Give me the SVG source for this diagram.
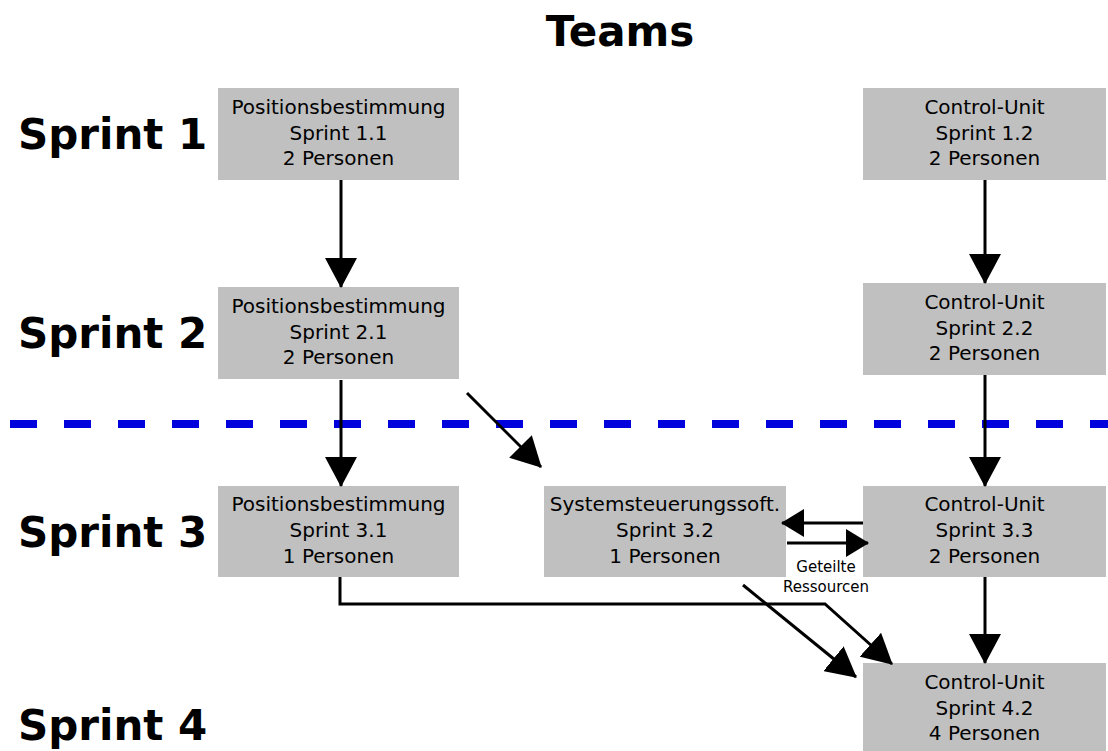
<svg xmlns="http://www.w3.org/2000/svg" width="1108" height="751" viewBox="0 0 1108 751">
  <style>
    .box { fill: #c0c0c0; }
    .lbl { font-family: "DejaVu Sans", sans-serif; font-size: 20px; fill: #000; text-anchor: middle; }
    .sprint { font-family: "DejaVu Sans", sans-serif; font-size: 42px; font-weight: bold; fill: #000; }
    .title { font-family: "DejaVu Sans", sans-serif; font-size: 42px; font-weight: bold; fill: #000; text-anchor: middle; }
    .note { font-family: "DejaVu Sans", sans-serif; font-size: 15px; fill: #000; text-anchor: middle; }
    .edge { fill: none; stroke: #000; stroke-width: 3; }
    .big { marker-end: url(#head); }
    .small { marker-end: url(#headS); }
  </style>
  <defs>
    <marker id="head" markerUnits="userSpaceOnUse" markerWidth="31" markerHeight="32" refX="29" refY="16" orient="auto">
      <path d="M0,0 L30,16 L0,32 z" fill="#000"/>
    </marker>
    <marker id="headS" markerUnits="userSpaceOnUse" markerWidth="24" markerHeight="28" refX="22" refY="14" orient="auto">
      <path d="M0,0 L23,14 L0,28 z" fill="#000"/>
    </marker>
  </defs>
  <rect width="1108" height="751" fill="#fff"/>

  <!-- headings -->
  <text class="title" x="620" y="46">Teams</text>
  <text class="sprint" x="18" y="149">Sprint 1</text>
  <text class="sprint" x="18" y="348">Sprint 2</text>
  <text class="sprint" x="18" y="547">Sprint 3</text>
  <text class="sprint" x="18" y="740">Sprint 4</text>

  <!-- sprint boundary -->
  <line x1="10" y1="424" x2="1108" y2="424" stroke="#0000dc" stroke-width="8" stroke-dasharray="27 27"/>

  <!-- nodes -->
  <g id="pos11">
    <rect class="box" x="218" y="88" width="241" height="92"/>
    <text class="lbl" x="338.5" y="114">Positionsbestimmung</text>
    <text class="lbl" x="338.5" y="139.5">Sprint 1.1</text>
    <text class="lbl" x="338.5" y="165">2 Personen</text>
  </g>
  <g id="cu12">
    <rect class="box" x="863" y="88" width="243" height="92"/>
    <text class="lbl" x="984.5" y="114">Control-Unit</text>
    <text class="lbl" x="984.5" y="139.5">Sprint 1.2</text>
    <text class="lbl" x="984.5" y="165">2 Personen</text>
  </g>
  <g id="pos21">
    <rect class="box" x="218" y="287" width="241" height="92"/>
    <text class="lbl" x="338.5" y="313">Positionsbestimmung</text>
    <text class="lbl" x="338.5" y="338.5">Sprint 2.1</text>
    <text class="lbl" x="338.5" y="364">2 Personen</text>
  </g>
  <g id="cu22">
    <rect class="box" x="863" y="283" width="243" height="92"/>
    <text class="lbl" x="984.5" y="309">Control-Unit</text>
    <text class="lbl" x="984.5" y="334.5">Sprint 2.2</text>
    <text class="lbl" x="984.5" y="360">2 Personen</text>
  </g>
  <g id="pos31">
    <rect class="box" x="218" y="486" width="241" height="91"/>
    <text class="lbl" x="338.5" y="511">Positionsbestimmung</text>
    <text class="lbl" x="338.5" y="537">Sprint 3.1</text>
    <text class="lbl" x="338.5" y="562.5">1 Personen</text>
  </g>
  <g id="sys32">
    <rect class="box" x="544" y="486" width="242" height="91"/>
    <text class="lbl" x="665" y="511">Systemsteuerungssoft.</text>
    <text class="lbl" x="665" y="537">Sprint 3.2</text>
    <text class="lbl" x="665" y="562.5">1 Personen</text>
  </g>
  <g id="cu33">
    <rect class="box" x="863" y="486" width="243" height="91"/>
    <text class="lbl" x="984.5" y="511">Control-Unit</text>
    <text class="lbl" x="984.5" y="537">Sprint 3.3</text>
    <text class="lbl" x="984.5" y="562.5">2 Personen</text>
  </g>
  <g id="cu42">
    <rect class="box" x="863" y="663" width="243" height="88"/>
    <text class="lbl" x="984.5" y="689">Control-Unit</text>
    <text class="lbl" x="984.5" y="715">Sprint 4.2</text>
    <text class="lbl" x="984.5" y="740">4 Personen</text>
  </g>

  <!-- connectors -->
  <g id="connectors">
    <path class="edge big" d="M341,180 V287"/>
    <path class="edge big" d="M985,180 V283"/>
    <path class="edge big" d="M341,380 V486"/>
    <path class="edge big" d="M985,375 V486"/>
    <path class="edge big" d="M467,393 L541,467"/>
    <path class="edge small" d="M863,523 H782"/>
    <path class="edge small" d="M787,543 H868"/>
    <path class="edge big" d="M340,577 V604 H825 L892,664"/>
    <path class="edge big" d="M743,585 L856,677"/>
    <path class="edge big" d="M985,577 V663"/>
    <text class="note" x="826" y="572">Geteilte</text>
    <text class="note" x="826" y="592">Ressourcen</text>
  </g>
</svg>
